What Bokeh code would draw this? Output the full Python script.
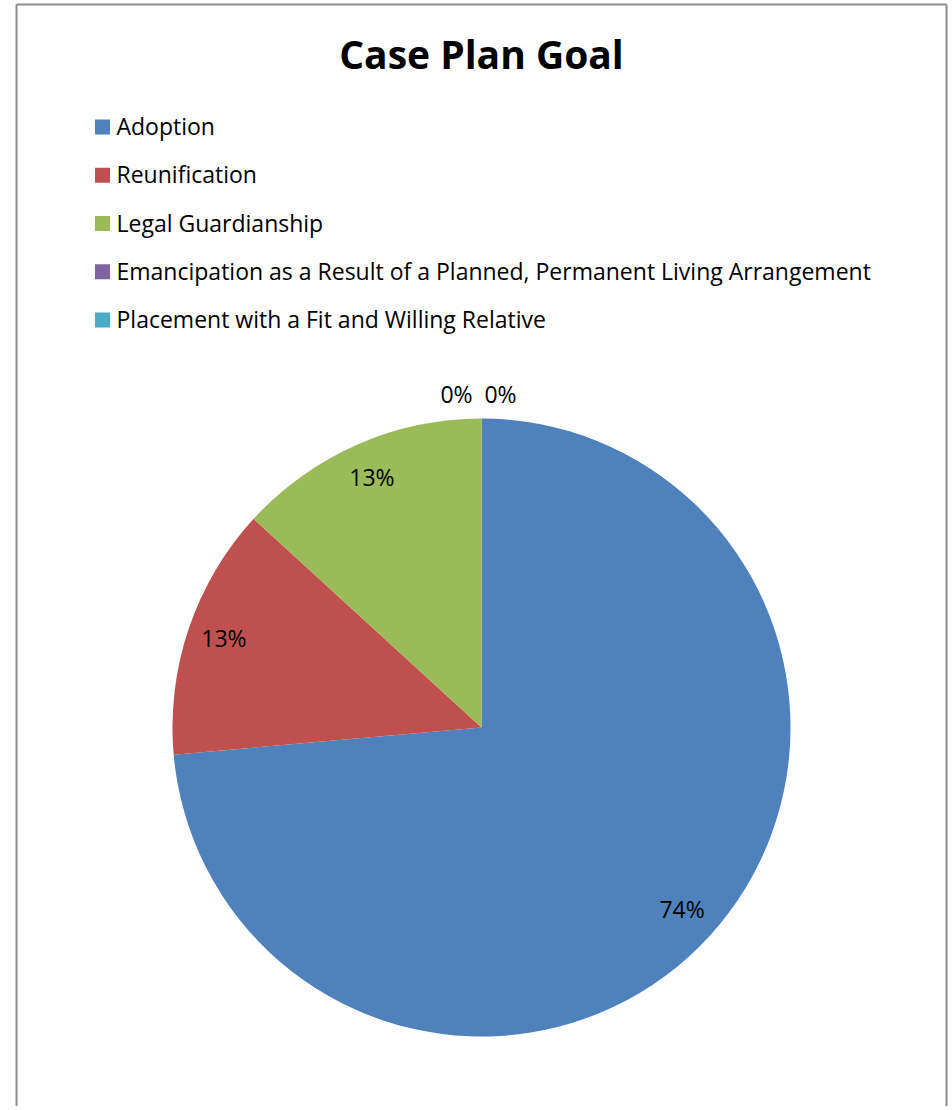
import math
from bokeh.plotting import figure
from bokeh.models import Range1d, ColumnDataSource
from bokeh.core.properties import value
from bokeh.embed import file_html
from bokeh.resources import INLINE

# ---- data ----
title = "Case Plan Goal"
categories = [
    "Adoption",
    "Reunification",
    "Legal Guardianship",
    "Emancipation as a Result of a Planned, Permanent Living Arrangement",
    "Placement with a Fit and Willing Relative",
]
shares = [73.6, 13.2, 13.2, 0.0, 0.0]
colors = ["#4F81BD", "#C0504D", "#9BBB59", "#8064A2", "#4BACC6"]

FONT = "Open Sans"
W, H = 948, 1106

# figure in page-pixel coordinates (y grows downward)
p = figure(width=W, height=H, output_backend="svg", toolbar_location=None,
           x_range=Range1d(0, W), y_range=Range1d(H, 0),
           min_border=0, background_fill_color="white", border_fill_color="white")
p.axis.visible = False
p.grid.visible = False
p.outline_line_color = None

# chart-area border
p.segment(x0=[16, 946, 16], y0=[4, 4, 4], x1=[16, 946, 946], y1=[H + 5, H + 5, 4],
          line_color="#8c8c8c", line_width=2)

# title
p.text(x=[481], y=[53], text=[title], text_align="center", text_baseline="middle",
       text_font=value(FONT), text_font_style="bold", text_font_size="39px", text_color="black")

# pie
cx, cy, R = 481, 727, 309
total = sum(shares)
starts, ends, mids, wcol = [], [], [], []
acc = 0.0
for s, c in zip(shares, colors):
    a0 = acc / total * 2 * math.pi
    acc += s
    a1 = acc / total * 2 * math.pi
    mids.append((a0 + a1) / 2)
    if s > 0:
        starts.append(math.pi / 2 - a0)
        ends.append(math.pi / 2 - a1)
        wcol.append(c)

src = ColumnDataSource(dict(start=starts, end=ends, color=wcol))
p.wedge(x=cx, y=cy, radius=R, start_angle="start", end_angle="end", direction="clock",
        fill_color="color", line_color=None, source=src)

# data labels
lx, ly, lt, loff = [], [], [], []
zero_offsets = [-25, 19]
zi = 0
for s, m in zip(shares, mids):
    pct = f"{round(s / total * 100)}%"
    if s > 0:
        r = 0.88 * R
        loff.append(0)
    else:
        r = 1.074 * R
        loff.append(zero_offsets[zi])
        zi += 1
    lx.append(cx + r * math.sin(m))
    ly.append(cy - r * math.cos(m) - 2)
    lt.append(pct)
p.text(x=lx, y=ly, text=lt, x_offset=loff, text_align="center", text_baseline="middle",
       text_font=value(FONT), text_font_size="23px", text_color="black")

# legend
row0, step = 126.5, 48.25
ly_leg = [row0 + i * step for i in range(len(categories))]
p.rect(x=[102] * len(categories), y=ly_leg, width=15, height=15,
       fill_color=colors, line_color=None)
p.text(x=[116] * len(categories), y=[v - 1 for v in ly_leg], text=categories,
       text_align="left", text_baseline="middle",
       text_font=value(FONT), text_font_size="23px", text_color="black")

open("out.html", "w").write(file_html(p, INLINE))
